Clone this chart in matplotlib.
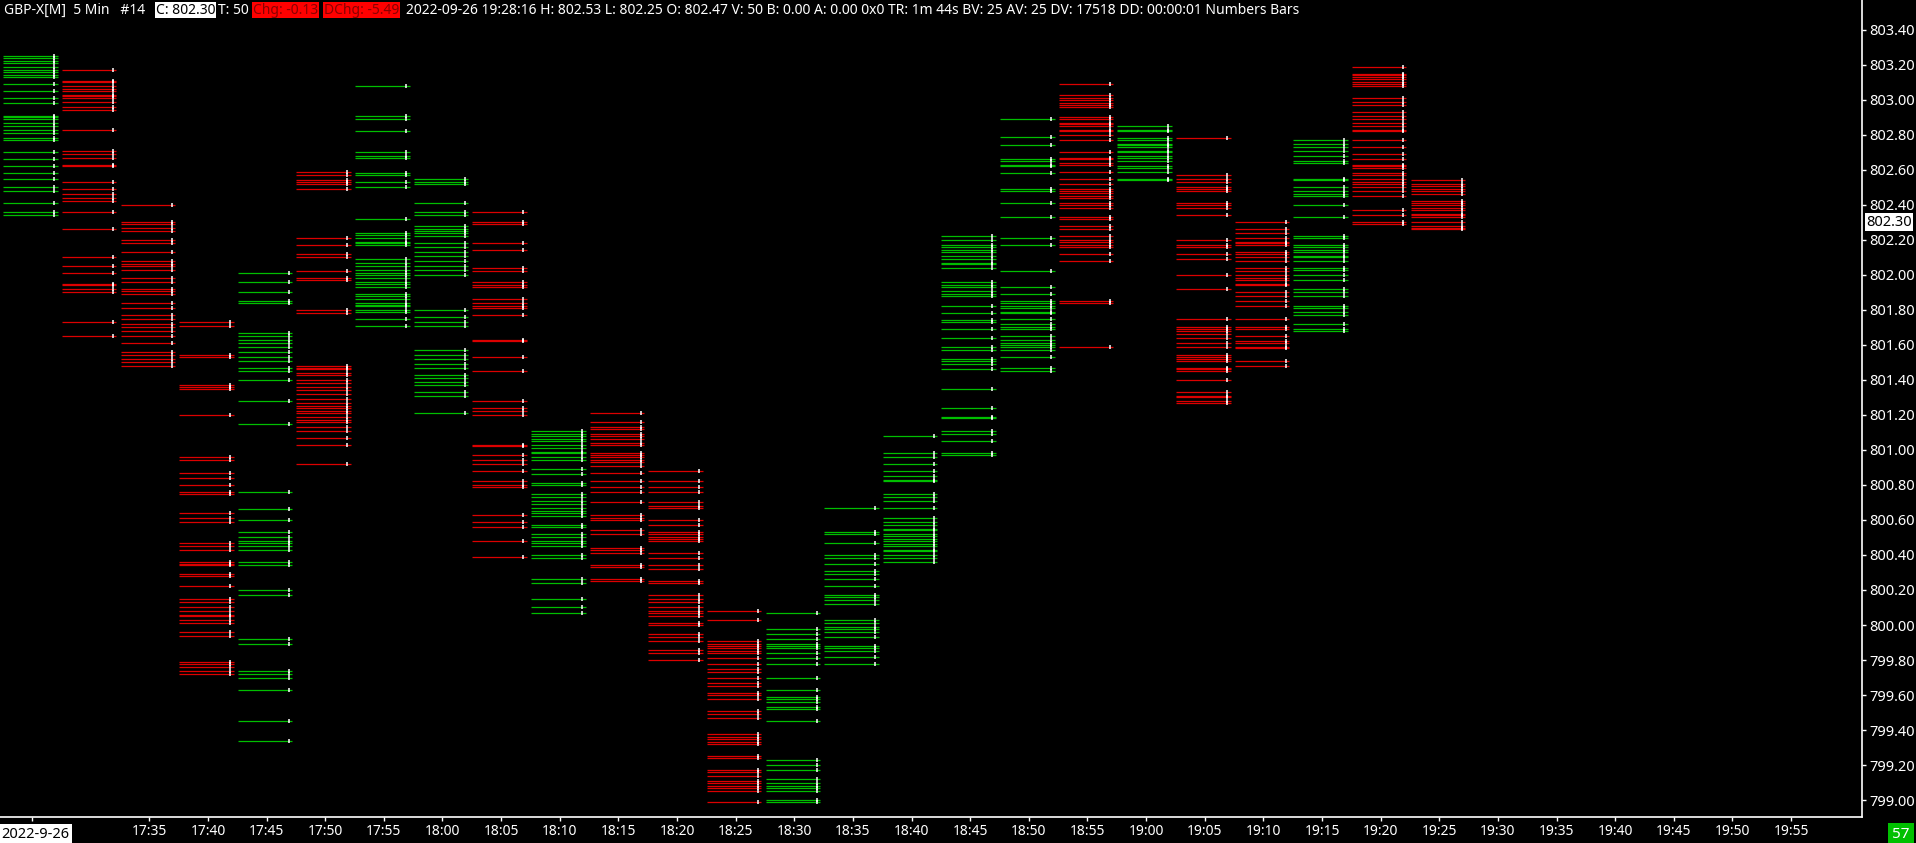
import matplotlib
matplotlib.use('Agg')
import matplotlib.pyplot as plt

plt.rcParams['font.family'] = ['Noto Sans', 'DejaVu Sans']

# x axis: one slot per 5 minute bar, 17:25 .. 19:55
time_labels = ['17:25', '17:30', '17:35', '17:40', '17:45', '17:50', '17:55',
               '18:00', '18:05', '18:10', '18:15', '18:20', '18:25', '18:30',
               '18:35', '18:40', '18:45', '18:50', '18:55', '19:00', '19:05',
               '19:10', '19:15', '19:20', '19:25', '19:30', '19:35', '19:40',
               '19:45', '19:50', '19:55']

price_ticks = [799.00, 799.20, 799.40, 799.60, 799.80, 800.00, 800.20, 800.40,
               800.60, 800.80, 801.00, 801.20, 801.40, 801.60, 801.80, 802.00,
               802.20, 802.40, 802.60, 802.80, 803.00, 803.20, 803.40]

# True = up bar (green), False = down bar (red)
bar_up = [True, False, False, False, True, False, True, True, False, True,
          False, False, False, True, True, True, True, True, False, True,
          False, False, True, False, False]

# traded price levels per bar
levels_1725 = [803.25, 803.24, 803.22, 803.21, 803.19, 803.17, 803.16, 803.14, 803.13,
               803.09, 803.05, 803.01, 802.98, 802.91, 802.90, 802.89, 802.87, 802.85,
               802.83, 802.81, 802.78, 802.77, 802.70, 802.66, 802.62, 802.58, 802.55,
               802.50, 802.48, 802.41, 802.36, 802.34]
levels_1730 = [803.17, 803.11, 803.10, 803.08, 803.06, 803.05, 803.03, 803.02, 803.01,
               802.99, 802.96, 802.94, 802.83, 802.71, 802.69, 802.67, 802.63, 802.62,
               802.53, 802.49, 802.46, 802.44, 802.42, 802.36, 802.26, 802.10, 802.05,
               802.01, 801.95, 801.94, 801.92, 801.90, 801.73, 801.65]
levels_1735 = [802.40, 802.30, 802.29, 802.27, 802.25, 802.20, 802.18, 802.13, 802.08,
               802.06, 802.05, 802.03, 801.98, 801.96, 801.92, 801.91, 801.89, 801.84,
               801.81, 801.77, 801.75, 801.72, 801.70, 801.68, 801.65, 801.61, 801.56,
               801.54, 801.52, 801.50, 801.48]
levels_1740 = [801.73, 801.71, 801.54, 801.53, 801.37, 801.36, 801.35, 801.20, 800.96,
               800.94, 800.87, 800.84, 800.80, 800.76, 800.75, 800.64, 800.61, 800.59,
               800.47, 800.45, 800.43, 800.36, 800.35, 800.34, 800.29, 800.28, 800.22,
               800.15, 800.13, 800.10, 800.08, 800.06, 800.05, 800.03, 800.01, 799.96,
               799.94, 799.79, 799.78, 799.76, 799.74, 799.72]
levels_1745 = [802.01, 801.96, 801.90, 801.85, 801.84, 801.67, 801.65, 801.63, 801.61,
               801.59, 801.56, 801.53, 801.51, 801.47, 801.45, 801.40, 801.28, 801.15,
               800.76, 800.66, 800.60, 800.53, 800.50, 800.48, 800.47, 800.45, 800.43,
               800.36, 800.34, 800.20, 800.17, 799.92, 799.89, 799.74, 799.72, 799.70,
               799.63, 799.45, 799.34]
levels_1750 = [802.59, 802.57, 802.54, 802.53, 802.52, 802.49, 802.21, 802.17, 802.12,
               802.10, 802.02, 801.98, 801.97, 801.80, 801.78, 801.48, 801.47, 801.46,
               801.44, 801.43, 801.40, 801.38, 801.36, 801.34, 801.32, 801.29, 801.27,
               801.25, 801.24, 801.22, 801.21, 801.19, 801.17, 801.16, 801.13, 801.11,
               801.07, 801.03, 800.92]
levels_1755 = [803.08, 802.91, 802.89, 802.82, 802.70, 802.68, 802.67, 802.58, 802.57,
               802.53, 802.50, 802.32, 802.24, 802.23, 802.21, 802.19, 802.18, 802.17,
               802.09, 802.07, 802.05, 802.03, 802.01, 802.00, 801.98, 801.96, 801.95,
               801.93, 801.89, 801.88, 801.86, 801.84, 801.83, 801.82, 801.80, 801.79,
               801.75, 801.71]
levels_1800 = [802.55, 802.53, 802.52, 802.41, 802.36, 802.34, 802.28, 802.26, 802.25,
               802.24, 802.22, 802.18, 802.16, 802.13, 802.11, 802.08, 802.05, 802.03,
               802.00, 801.80, 801.76, 801.73, 801.71, 801.57, 801.54, 801.52, 801.49,
               801.47, 801.43, 801.41, 801.39, 801.37, 801.33, 801.31, 801.21]
levels_1805 = [802.36, 802.30, 802.29, 802.18, 802.14, 802.04, 802.02, 801.96, 801.94,
               801.93, 801.86, 801.84, 801.82, 801.81, 801.77, 801.63, 801.62, 801.53,
               801.45, 801.28, 801.24, 801.22, 801.20, 801.03, 801.02, 800.97, 800.94,
               800.92, 800.88, 800.82, 800.80, 800.79, 800.63, 800.59, 800.56, 800.48,
               800.39]
levels_1810 = [801.11, 801.09, 801.08, 801.06, 801.05, 801.03, 801.01, 800.99, 800.98,
               800.96, 800.94, 800.89, 800.86, 800.81, 800.80, 800.75, 800.73, 800.71,
               800.69, 800.67, 800.65, 800.64, 800.62, 800.57, 800.56, 800.52, 800.50,
               800.48, 800.47, 800.45, 800.40, 800.38, 800.26, 800.24, 800.15, 800.10,
               800.07]
levels_1815 = [801.21, 801.16, 801.13, 801.12, 801.09, 801.08, 801.06, 801.04, 801.03,
               800.98, 800.97, 800.96, 800.94, 800.93, 800.91, 800.87, 800.82, 800.79,
               800.76, 800.70, 800.63, 800.61, 800.60, 800.54, 800.52, 800.44, 800.43,
               800.41, 800.34, 800.33, 800.26, 800.25]
levels_1820 = [800.88, 800.82, 800.79, 800.76, 800.70, 800.68, 800.67, 800.60, 800.57,
               800.53, 800.52, 800.50, 800.49, 800.48, 800.41, 800.38, 800.34, 800.32,
               800.25, 800.24, 800.17, 800.15, 800.13, 800.10, 800.08, 800.07, 800.05,
               800.01, 800.00, 799.95, 799.93, 799.91, 799.86, 799.84, 799.80]
levels_1825 = [800.08, 800.03, 799.91, 799.89, 799.88, 799.87, 799.85, 799.84, 799.81,
               799.78, 799.75, 799.73, 799.70, 799.67, 799.65, 799.61, 799.60, 799.58,
               799.51, 799.49, 799.47, 799.38, 799.36, 799.35, 799.33, 799.32, 799.25,
               799.24, 799.17, 799.16, 799.14, 799.11, 799.10, 799.08, 799.07, 799.05,
               798.99]
levels_1830 = [800.07, 799.98, 799.95, 799.92, 799.89, 799.88, 799.87, 799.84, 799.81,
               799.78, 799.70, 799.63, 799.59, 799.58, 799.56, 799.53, 799.52, 799.45,
               799.23, 799.20, 799.17, 799.12, 799.10, 799.08, 799.07, 799.05, 799.00,
               798.99]
levels_1835 = [800.67, 800.53, 800.52, 800.47, 800.40, 800.38, 800.35, 800.31, 800.29,
               800.26, 800.22, 800.17, 800.16, 800.14, 800.12, 800.03, 800.01, 799.99,
               799.98, 799.96, 799.93, 799.88, 799.87, 799.85, 799.82, 799.78]
levels_1840 = [801.08, 800.98, 800.96, 800.92, 800.88, 800.85, 800.83, 800.82, 800.75,
               800.73, 800.71, 800.67, 800.61, 800.59, 800.57, 800.55, 800.54, 800.52,
               800.51, 800.49, 800.48, 800.46, 800.45, 800.43, 800.42, 800.40, 800.38,
               800.36]
levels_1845 = [802.22, 802.20, 802.17, 802.16, 802.14, 802.13, 802.11, 802.09, 802.07,
               802.06, 802.04, 801.96, 801.94, 801.93, 801.91, 801.89, 801.88, 801.82,
               801.78, 801.74, 801.73, 801.69, 801.64, 801.59, 801.57, 801.52, 801.51,
               801.49, 801.46, 801.35, 801.24, 801.19, 801.18, 801.11, 801.09, 801.05,
               800.98, 800.97]
levels_1850 = [802.89, 802.79, 802.74, 802.66, 802.65, 802.63, 802.62, 802.58, 802.49,
               802.48, 802.41, 802.33, 802.21, 802.17, 802.02, 801.93, 801.89, 801.85,
               801.84, 801.82, 801.81, 801.79, 801.78, 801.75, 801.72, 801.70, 801.69,
               801.65, 801.63, 801.61, 801.60, 801.59, 801.57, 801.53, 801.47, 801.45]
levels_1855 = [803.09, 803.03, 803.01, 803.00, 802.98, 802.97, 802.96, 802.90, 802.89,
               802.87, 802.86, 802.85, 802.83, 802.82, 802.80, 802.77, 802.70, 802.67,
               802.66, 802.64, 802.63, 802.59, 802.55, 802.52, 802.49, 802.48, 802.47,
               802.45, 802.44, 802.41, 802.40, 802.38, 802.33, 802.32, 802.28, 802.26,
               802.22, 802.20, 802.19, 802.17, 802.16, 802.12, 802.08, 801.85, 801.84,
               801.59]
levels_1900 = [802.85, 802.83, 802.82, 802.78, 802.77, 802.75, 802.74, 802.73, 802.71,
               802.70, 802.68, 802.67, 802.65, 802.62, 802.61, 802.59, 802.55, 802.54]
levels_1905 = [802.78, 802.57, 802.55, 802.53, 802.50, 802.49, 802.48, 802.41, 802.40,
               802.38, 802.34, 802.20, 802.17, 802.16, 802.12, 802.09, 802.00, 801.92,
               801.75, 801.70, 801.69, 801.68, 801.66, 801.64, 801.61, 801.59, 801.54,
               801.53, 801.52, 801.51, 801.47, 801.46, 801.45, 801.40, 801.33, 801.31,
               801.30, 801.28, 801.27]
levels_1910 = [802.30, 802.26, 802.24, 802.21, 802.19, 802.18, 802.17, 802.13, 802.12,
               802.10, 802.08, 802.04, 802.02, 802.00, 801.98, 801.97, 801.95, 801.94,
               801.90, 801.88, 801.85, 801.82, 801.75, 801.70, 801.69, 801.65, 801.62,
               801.61, 801.59, 801.58, 801.51, 801.48]
levels_1915 = [802.77, 802.75, 802.73, 802.71, 802.68, 802.65, 802.64, 802.55, 802.54,
               802.50, 802.48, 802.46, 802.45, 802.40, 802.33, 802.22, 802.21, 802.17,
               802.16, 802.14, 802.13, 802.11, 802.10, 802.08, 802.04, 802.03, 802.00,
               801.97, 801.92, 801.90, 801.88, 801.82, 801.81, 801.79, 801.77, 801.72,
               801.69, 801.68]
levels_1920 = [803.19, 803.15, 803.14, 803.13, 803.12, 803.10, 803.09, 803.08, 803.01,
               802.99, 802.97, 802.93, 802.91, 802.89, 802.87, 802.85, 802.83, 802.82,
               802.77, 802.73, 802.69, 802.66, 802.63, 802.62, 802.61, 802.58, 802.57,
               802.55, 802.53, 802.52, 802.50, 802.48, 802.45, 802.37, 802.34, 802.30,
               802.29]
levels_1925 = [802.54, 802.52, 802.51, 802.49, 802.48, 802.46, 802.42, 802.41, 802.40,
               802.38, 802.37, 802.35, 802.34, 802.33, 802.30, 802.28, 802.27, 802.26]

bar_levels = [levels_1725, levels_1730, levels_1735, levels_1740, levels_1745,
              levels_1750, levels_1755, levels_1800, levels_1805, levels_1810,
              levels_1815, levels_1820, levels_1825, levels_1830, levels_1835,
              levels_1840, levels_1845, levels_1850, levels_1855, levels_1900,
              levels_1905, levels_1910, levels_1915, levels_1920, levels_1925]

last_price = 802.30

W, H = 1916, 843
fig = plt.figure(figsize=(W / 100, H / 100), dpi=100, facecolor='black')
ax = fig.add_axes([0, 26 / H, 1862 / W, 817 / H], facecolor='black')

for i, (lv, up) in enumerate(zip(bar_levels, bar_up)):
    col = '#00be00' if up else '#dc0000'
    ax.hlines(lv, i - 0.49, i + 0.44, colors=col, lw=0.9)
    # volume numbers at each level, shown as tiny white marks
    ax.plot([i + 0.38] * len(lv), lv, ls='none', marker='|', ms=2.6, mew=1.1,
            color='white')

ax.set_xlim(-0.546, 31.21)
ax.set_ylim(798.903, 803.571)

for s in ['left', 'top']:
    ax.spines[s].set_visible(False)
for s in ['right', 'bottom']:
    ax.spines[s].set_color('white')
    ax.spines[s].set_linewidth(1.2)

ax.yaxis.tick_right()
ax.set_yticks(price_ticks)
ax.set_yticklabels([f'{p:.2f}' for p in price_ticks])
ax.tick_params(axis='y', colors='white', length=3, width=1, labelsize=10.5, pad=2)

xt = [0] + list(range(2, len(time_labels)))
ax.set_xticks(xt)
ax.set_xticklabels([''] + time_labels[2:])
ax.tick_params(axis='x', colors='white', length=3, width=1, labelsize=10, pad=2)

# last price marker on the price scale
ax.annotate(f'{last_price:.2f}', xy=(1.0, last_price), xycoords=('axes fraction', 'data'),
            xytext=(3, 0), textcoords='offset points', va='center', ha='left',
            fontsize=10.5, color='black',
            bbox=dict(boxstyle='square,pad=0.1', fc='white', ec='none'))

# date box and bar counter
fig.text(1 / W, 9 / H, '2022-9-26', color='black', fontsize=10.5, va='center', ha='left',
         bbox=dict(boxstyle='square,pad=0.2', fc='white', ec='none'))
fig.text(1901 / W, 9 / H, '57', color='white', fontsize=11, va='center', ha='center',
         bbox=dict(boxstyle='square,pad=0.25', fc='#00c000', ec='none'))

# header line
ty = 1 - 10 / H
hs = 10
fig.text(4 / W, ty, 'GBP-X[M]  5 Min   #14', color='white', fontsize=hs, va='center')
fig.text(156 / W, ty, 'C: 802.30', color='black', fontsize=hs, va='center',
         bbox=dict(boxstyle='square,pad=0.06', fc='white', ec='none'))
fig.text(218 / W, ty, 'T: 50', color='white', fontsize=hs, va='center')
fig.text(253 / W, ty, 'Chg: -0.13', color='#8a0000', fontsize=hs, va='center',
         bbox=dict(boxstyle='square,pad=0.06', fc='#ff0000', ec='none'))
fig.text(324 / W, ty, 'DChg: -5.49', color='#8a0000', fontsize=hs, va='center',
         bbox=dict(boxstyle='square,pad=0.06', fc='#ff0000', ec='none'))
fig.text(406 / W, ty, '2022-09-26 19:28:16 H: 802.53 L: 802.25 O: 802.47 V: 50 B: 0.00 '
         'A: 0.00 0x0 TR: 1m 44s BV: 25 AV: 25 DV: 17518 DD: 00:00:01 Numbers Bars',
         color='white', fontsize=hs, va='center')

fig.savefig('out.png', dpi=100, facecolor='black')
